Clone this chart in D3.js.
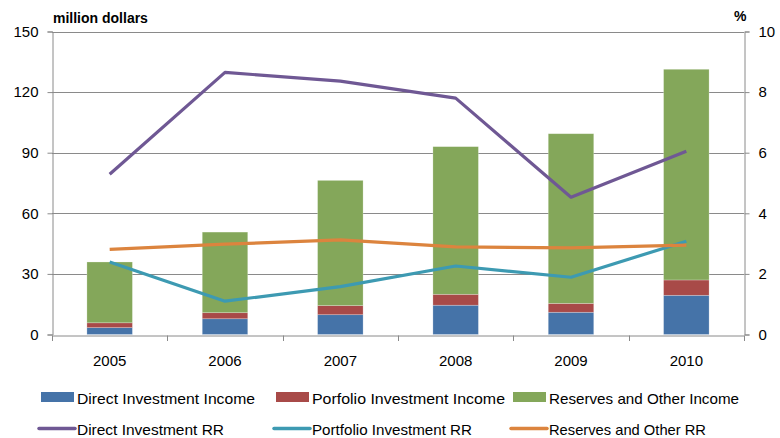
<!DOCTYPE html>
<html><head><meta charset="utf-8">
<script src="https://cdn.jsdelivr.net/npm/d3@7"></script>
<style>body{margin:0;background:#fff}svg{display:block}</style>
</head><body><svg id="c" width="780" height="438"></svg>
<script>
const years = ["2005","2006","2007","2008","2009","2010"];
const directIncome = [3.4, 7.8, 9.8, 14.5, 11.0, 19.4];
const portfolioIncome = [2.4, 3.0, 4.5, 5.4, 4.4, 7.6];
const reservesIncome = [30.1, 39.9, 62.0, 73.1, 84.0, 104.3];
const directRR = [5.29, 8.65, 8.36, 7.80, 4.53, 6.05];
const portfolioRR = [2.39, 1.10, 1.58, 2.26, 1.89, 3.08];
const reservesRR = [2.81, 2.98, 3.12, 2.89, 2.86, 2.95];
const leftTicks = [0, 30, 60, 90, 120, 150];
const rightTicks = [0, 2, 4, 6, 8, 10];

const barSeries = [
  {name:"Direct Investment  Income", values: directIncome, color:"#4573A8"},
  {name:"Porfolio Investment  Income", values: portfolioIncome, color:"#A84A48"},
  {name:"Reserves and Other Income", values: reservesIncome, color:"#84A75A"}
];
const lineSeries = [
  {name:"Direct Investment  RR", values: directRR, color:"#6F5894"},
  {name:"Portfolio Investment  RR", values: portfolioRR, color:"#3D9AB2"},
  {name:"Reserves and Other RR", values: reservesRR, color:"#DC843E"}
];

const svg = d3.select("#c");
const L = 52, R = 744, T = 31.5, B = 334.5;
const font = "'Liberation Sans', Arial, sans-serif";
const xb = d3.scaleBand().domain(years).range([L, R]);
const y = d3.scaleLinear().domain([0,150]).range([B, T]);
const y2 = d3.scaleLinear().domain([0,10]).range([B, T]);

// gridlines
svg.append("g").selectAll("line").data(leftTicks.slice(1)).join("line")
  .attr("x1", L).attr("x2", R).attr("y1", d=>Math.round(y(d))+0.5).attr("y2", d=>Math.round(y(d))+0.5)
  .attr("stroke", "#8a8a8a").attr("stroke-width", 1);

// bars
const stack = d3.stack().keys([0,1,2]).value((d,k)=>barSeries[k].values[d])(years.map((_,i)=>i));
const barW = 45.5;
stack.forEach((layer, k) => {
  svg.append("g").selectAll("rect").data(layer).join("rect")
    .attr("x", (d,i)=>xb(years[i]) + xb.bandwidth()/2 - barW/2)
    .attr("width", barW)
    .attr("y", d=>y(d[1]))
    .attr("height", d=>y(d[0]) - y(d[1]))
    .attr("fill", barSeries[k].color)
    .attr("stroke", "rgba(255,255,255,0.35)").attr("stroke-width", 0.7);
});

// axes
const axL = svg.append("g").attr("transform", `translate(${L+0.5},0)`)
  .call(d3.axisLeft(y).tickValues(leftTicks).tickSize(5).tickPadding(9));
const axR = svg.append("g").attr("transform", `translate(${R+0.5},0)`)
  .call(d3.axisRight(y2).tickValues(rightTicks).tickSize(5).tickPadding(9));
const axB = svg.append("g").attr("transform", `translate(0,${Math.round(B)+0.5})`)
  .call(d3.axisBottom(xb).tickSize(0).tickPadding(20));
[axL, axR, axB].forEach(a => {
  a.selectAll("path.domain").attr("stroke", "#8a8a8a");
  a.selectAll(".tick line").attr("stroke", "#8a8a8a");
  a.selectAll("text").attr("font-family", font).attr("font-size", 15).attr("fill", "#000");
});
// bottom boundary ticks
svg.append("g").selectAll("line").data(d3.range(years.length+1)).join("line")
  .attr("x1", i=> Math.round(L + i*xb.step())+0.5).attr("x2", i=> Math.round(L + i*xb.step())+0.5)
  .attr("y1", Math.round(B)+0.5).attr("y2", Math.round(B)+6)
  .attr("stroke", "#8a8a8a");

// lines
const line = d3.line().x((d,i)=>xb(years[i]) + xb.bandwidth()/2).y(d=>y2(d));
lineSeries.forEach(s => {
  svg.append("path").datum(s.values).attr("d", line)
    .attr("fill","none").attr("stroke", s.color).attr("stroke-width", 3.2)
    .attr("stroke-linejoin","round");
});

// axis titles
svg.append("text").attr("x", 53).attr("y", 23).text("million dollars")
  .attr("font-family", font).attr("font-weight","bold").attr("font-size", 14);
svg.append("text").attr("x", 734).attr("y", 21).text("%")
  .attr("font-family", font).attr("font-weight","bold").attr("font-size", 14);

// legend
const legX = [41, 276, 513];
const legW = [178, 193, 190];
const legWL = [147, 160, 157];
const leg = svg.append("g");
barSeries.forEach((s,i) => {
  leg.append("rect").attr("x", legX[i]).attr("y", 392).attr("width", 33).attr("height", 10).attr("fill", s.color);
  leg.append("text").attr("x", legX[i]+36).attr("y", 404).text(s.name)
    .attr("font-family", font).attr("font-size", 15).attr("textLength", legW[i]).attr("lengthAdjust","spacingAndGlyphs");
});
lineSeries.forEach((s,i) => {
  leg.append("line").attr("x1", legX[i]-2).attr("x2", legX[i]+34).attr("y1", 428.5).attr("y2", 428.5)
    .attr("stroke", s.color).attr("stroke-width", 3.5).attr("stroke-linecap","round");
  leg.append("text").attr("x", legX[i]+36).attr("y", 435).text(s.name)
    .attr("font-family", font).attr("font-size", 15).attr("textLength", legWL[i]).attr("lengthAdjust","spacingAndGlyphs");
});
</script></body></html>
